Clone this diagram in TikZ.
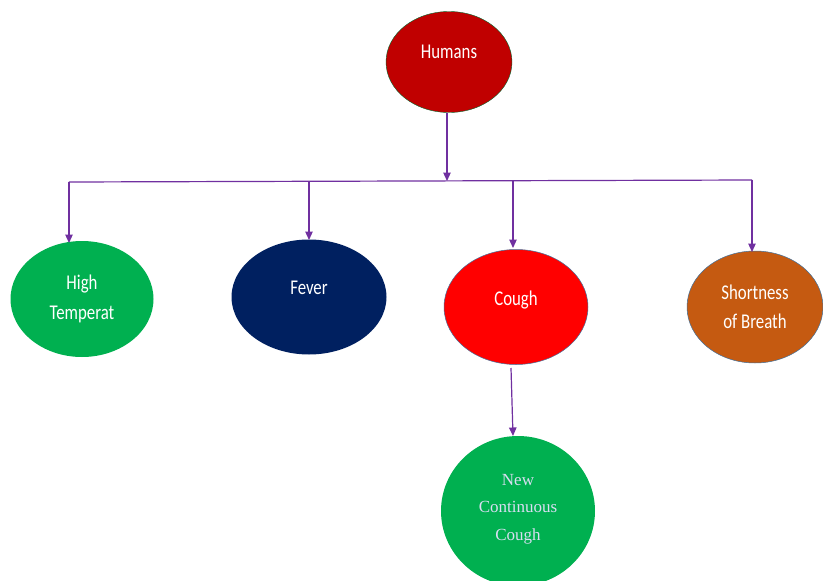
\documentclass[tikz,border=0pt]{standalone}
\usepackage{fontspec}
\setmainfont[FakeStretch=0.8]{Carlito}
\newfontfamily\nccfont{Liberation Serif}
\usetikzlibrary{arrows.meta,shapes.geometric}
\definecolor{hred}{HTML}{C00000}
\definecolor{hgreen}{HTML}{00B050}
\definecolor{hnavy}{HTML}{002060}
\definecolor{hbrown}{HTML}{C55A11}
\definecolor{hpurple}{HTML}{7030A0}
\definecolor{hedge}{HTML}{41719C}
\definecolor{ncctext}{HTML}{D9DEF2}
\begin{document}
\begin{tikzpicture}[x=1pt,y=-1pt,
  oval/.style={ellipse, inner sep=0pt},
  txt/.style={text=white, font=\fontsize{21}{29.5}\selectfont, align=center},
  conn/.style={draw=hpurple, line width=1.2pt},
  arr/.style={conn, -{Triangle[width=7.5pt,length=8.5pt]}}]
\useasboundingbox (0,0) rectangle (823,581);

\node[oval, fill=hred, draw=hgreen!60!black, line width=0.4pt, minimum width=126pt, minimum height=101pt,
  label={[txt, yshift=10pt]center:Humans}] (hum) at (449,62) {};
\node[oval, fill=hgreen, minimum width=143pt, minimum height=116pt,
  label={[txt]center:{High\\Temperat}}] (ht) at (82,299) {};
\node[oval, fill=hnavy, minimum width=155pt, minimum height=115pt,
  label={[txt, yshift=9pt]center:Fever}] (fev) at (309,297) {};
\node[oval, fill=red, draw=hedge, line width=0.5pt, minimum width=144pt, minimum height=115pt,
  label={[txt, yshift=7pt]center:Cough}] (cou) at (516,307) {};
\node[oval, fill=hbrown, draw=hedge, line width=0.5pt, minimum width=136pt, minimum height=112pt,
  label={[txt]center:{Shortness\\of Breath}}] (sob) at (755,307) {};
\node[oval, fill=hgreen, minimum width=154pt, minimum height=150pt,
  label={[text=ncctext, font=\nccfont\fontsize{17}{27.5}\selectfont, align=center, yshift=2pt]center:{New\\Continuous\\Cough}}] (ncc) at (518,511) {};

\coordinate (hum-out) at (447,112.5);
\coordinate (hub) at (447,181);
\coordinate (b1) at (69,182);
\coordinate (b2) at (309,181.4);
\coordinate (b3) at (513,180.6);
\coordinate (b4) at (752,180);
\coordinate (ht-in) at (69,243);
\coordinate (fev-in) at (309,240);
\coordinate (cou-in) at (513,248);
\coordinate (sob-in) at (752,252);
\coordinate (cou-out) at (511,368);
\coordinate (ncc-in) at (513,436);

\draw[arr] (hum-out) -- (hub);
\draw[conn] (b1) -- (b4);
\draw[arr] (b1) -- (ht-in);
\draw[arr] (b2) -- (fev-in);
\draw[arr] (b3) -- (cou-in);
\draw[arr] (b4) -- (sob-in);
\draw[arr] (cou-out) -- (ncc-in);
\end{tikzpicture}
\end{document}
